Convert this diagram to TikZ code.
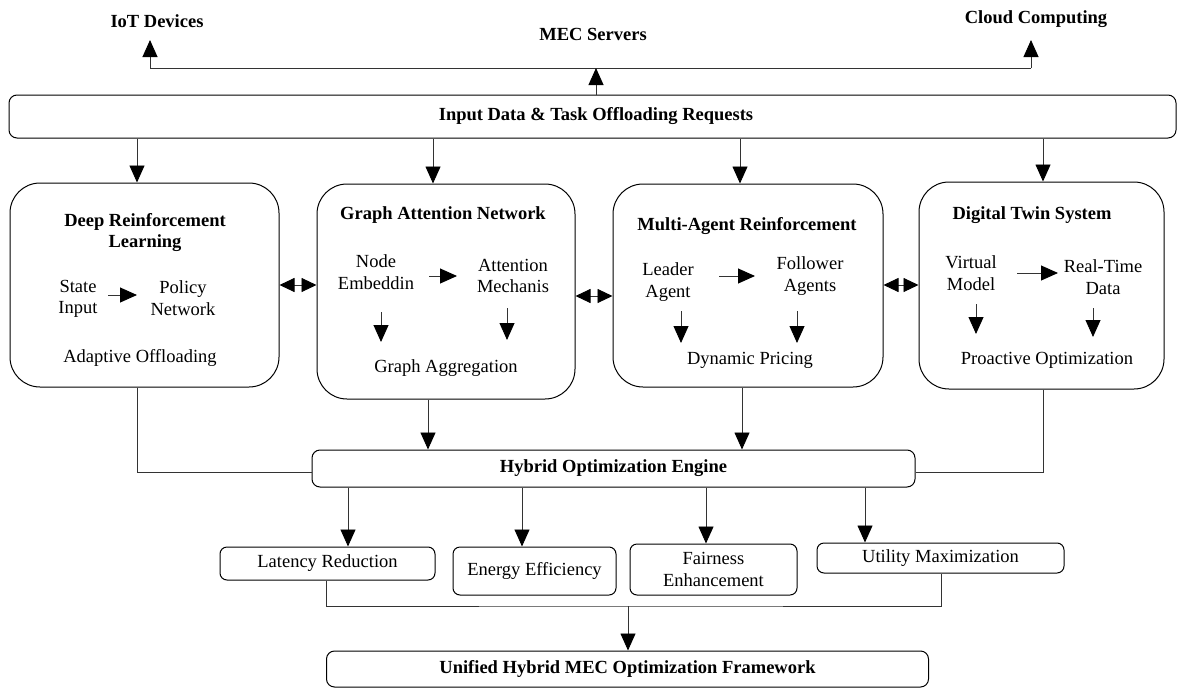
\documentclass[tikz,border=0pt]{standalone}
\usepackage{fontspec}
\setmainfont{Liberation Serif}
\usetikzlibrary{arrows.meta}
\tikzset{
  txt/.style={font=\fontsize{18.5}{21.5}\selectfont, align=center, inner sep=0pt},
  btxt/.style={txt, font=\fontsize{18.5}{21.5}\selectfont\bfseries},
  bigbox/.style={draw=black, line width=1pt, rounded corners=30pt, inner sep=0pt},
  inbox/.style={draw=black, line width=1pt, rounded corners=8pt, inner sep=0pt, font=\fontsize{18.5}{21.5}\selectfont\bfseries},
  resbox/.style={draw=black, line width=1pt, rounded corners=7pt, inner sep=0pt, align=center, font=\fontsize{18.5}{21.5}\selectfont},
  ln/.style={draw=black!80, line width=0.9pt},
  arr/.style={ln, -{Triangle[length=17pt,width=15pt,color=black]}},
  dbl/.style={ln, {Triangle[length=15pt,width=14pt,color=black]}-{Triangle[length=15pt,width=14pt,color=black]}},
}
\begin{document}
\begin{tikzpicture}[x=1pt,y=-1pt]
\useasboundingbox (0,0) rectangle (1180,688);
% top labels
\node[btxt] (iot) at (157,21) {IoT Devices};
\node[btxt] (mec) at (593,34) {MEC Servers};
\node[btxt] (cloud) at (1036,19) {Cloud Computing};
% input box
\node[inbox, minimum width=1167pt, minimum height=43pt] (inp) at (592.5,116.5) {\hspace*{7pt}Input Data \& Task Offloading Requests};
% distribution line
\coordinate (jl) at (150,68);
\coordinate (jr) at (1031,68);
\coordinate (jm) at (596,68);
\draw[ln] (jl) -- (jr);
\draw[arr] (jl) -- (150,40);
\draw[arr] (jr) -- (1031,40);
\draw[arr] (596,0 |- inp.north) -- (jm);
% big boxes
\node[bigbox, minimum width=269pt, minimum height=204pt] (b1) at (144.5,285) {};
\node[bigbox, minimum width=258pt, minimum height=215pt] (b2) at (446,291.5) {};
\node[bigbox, minimum width=270pt, minimum height=203pt] (b3) at (748,285.5) {};
\node[bigbox, minimum width=245pt, minimum height=207pt] (b4) at (1041.5,285.5) {};
\draw[arr] (137,0 |- inp.south) -- (137,0 |- b1.north);
\draw[arr] (433,0 |- inp.south) -- (433,0 |- b2.north);
\draw[arr] (740,0 |- inp.south) -- (740,0 |- b3.north);
\draw[arr] (1043,0 |- inp.south) -- (1043,0 |- b4.north);
\draw[dbl] (b1.east |- 0,285) -- (b2.west |- 0,285);
\draw[dbl] (b2.east |- 0,296) -- (b3.west |- 0,296);
\draw[dbl] (b3.east |- 0,285) -- (b4.west |- 0,285);
% box 1
\node[btxt] (t1) at (145,232.5) {Deep Reinforcement\\Learning};
\node[txt] (si) at (78,299) {State\\Input};
\node[txt] (pn) at (183,298) {Policy\\Network};
\node[txt] (ao) at (140,358) {Adaptive Offloading};
\draw[arr] (108,295) -- (137,295);
% box 2
\node[btxt] (t2) at (443,215) {Graph Attention Network};
\node[txt] (ne) at (376,272) {Node\\Embeddin};
\node[txt] (am) at (513,276) {Attention\\Mechanis};
\node[txt] (ga) at (446,368) {Graph Aggregation};
\draw[arr] (429,276) -- (457,276);
\draw[arr] (381,312) -- (381,342);
\draw[arr] (507,308) -- (507,340);
% box 3
\node[btxt] (t3) at (747,226) {Multi-Agent Reinforcement};
\node[txt] (la) at (668,282) {Leader\\Agent};
\node[txt] (fa) at (810,276) {Follower\\Agents};
\node[txt] (dp) at (750,360) {Dynamic Pricing};
\draw[arr] (719,276) -- (755,276);
\draw[arr] (681,311) -- (681,343);
\draw[arr] (797,311) -- (797,343);
% box 4
\node[btxt] (t4) at (1032,215) {Digital Twin System};
\node[txt] (vm) at (971,273) {Virtual\\Model};
\node[txt] (rt) at (1103,277) {Real-Time\\Data};
\node[txt] (po) at (1047,360) {Proactive Optimization};
\draw[arr] (1017,273) -- (1058,273);
\draw[arr] (976,304) -- (976,334);
\draw[arr] (1093,308) -- (1093,337);
% hybrid engine
\node[inbox, minimum width=603pt, minimum height=37pt] (hyb) at (613.5,468.5) {Hybrid Optimization Engine};
\draw[ln] (137,0 |- b1.south) |- (hyb.west |- 0,472);
\draw[ln] (1043,0 |- b4.south) |- (hyb.east |- 0,472);
\draw[arr] (428,0 |- b2.south) -- (428,0 |- hyb.north);
\draw[arr] (742,0 |- b3.south) -- (742,0 |- hyb.north);
% result boxes
\node[resbox, minimum width=215pt, minimum height=33pt] (lat) at (327.5,563.5) {Latency Reduction};
\node[resbox, minimum width=163pt, minimum height=48pt] (ene) at (534.5,571) {Energy Efficiency};
\node[resbox, minimum width=167pt, minimum height=51pt] (fai) at (713.5,569.5) {Fairness\\Enhancement};
\node[resbox, minimum width=247pt, minimum height=30pt] (uti) at (940.5,558) {Utility Maximization};
\draw[arr] (348,0 |- hyb.south) -- (348,0 |- lat.north);
\draw[arr] (522,0 |- hyb.south) -- (522,0 |- ene.north);
\draw[arr] (706,0 |- hyb.south) -- (706,0 |- fai.north);
\draw[arr] (865,0 |- hyb.south) -- (865,0 |- uti.north);
% final
\node[inbox, minimum width=602pt, minimum height=36pt] (fin) at (627.5,669) {Unified Hybrid MEC Optimization Framework};
\coordinate (jb) at (628,606);
\draw[ln] (326,0 |- lat.south) |- (jb) -| (941,0 |- uti.south);
\draw[arr] (jb) -- (628,0 |- fin.north);
\end{tikzpicture}
\end{document}
